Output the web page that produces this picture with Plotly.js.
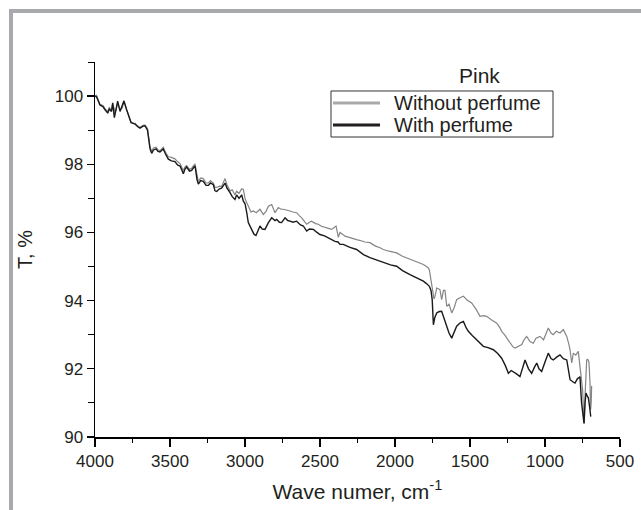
<!DOCTYPE html>
<html>
<head>
<meta charset="utf-8">
<script src="https://cdn.plot.ly/plotly-3.0.1.min.js"></script>
<style>
  html, body { margin:0; padding:0; background:#fff; }
  #wrap { position:relative; width:641px; height:510px; overflow:hidden; }
  #chart { position:absolute; left:0; top:0; width:641px; height:510px; }
  .frameTop { position:absolute; left:9px; top:9px; width:640px; height:4px; background:#a7a9ac; }
  .frameLeft { position:absolute; left:9px; top:9px; width:4px; height:510px; background:#a7a9ac; }
</style>
</head>
<body>
<div id="wrap">
  <div id="chart"></div>
  <div class="frameTop"></div>
  <div class="frameLeft"></div>
</div>
<script>
// Without perfume (grey)
const wnWithout = [4000,3990,3967,3945,3933,3915,3905,3890,3882,3865,3849,3833,3818,3807,3789,3775,3760,3745,3733,3715,3700,3680,3667,3650,3640,3633,3622,3610,3593,3580,3567,3555,3545,3530,3511,3490,3467,3450,3433,3420,3411,3400,3389,3370,3356,3340,3333,3320,3311,3295,3278,3260,3244,3230,3211,3200,3189,3170,3156,3133,3120,3100,3085,3067,3056,3040,3022,3011,3000,2989,2978,2960,2944,2925,2900,2878,2860,2844,2822,2800,2778,2760,2744,2720,2700,2680,2656,2640,2622,2600,2589,2570,2556,2530,2511,2490,2467,2444,2422,2405,2393,2378,2367,2350,2333,2300,2270,2256,2220,2200,2167,2130,2100,2078,2040,2010,1989,1950,1920,1900,1870,1840,1811,1790,1778,1771,1760,1750,1740,1733,1722,1710,1700,1689,1677,1667,1655,1640,1622,1605,1589,1570,1544,1520,1489,1460,1433,1410,1389,1360,1340,1322,1300,1289,1270,1255,1233,1215,1200,1180,1155,1140,1122,1100,1078,1060,1033,1010,990,978,960,945,925,900,878,865,855,840,833,822,811,795,778,767,755,749,742,738,733,727,722,715,707,700,696,692,689];
const tWithout = [100.0,100.02,99.76,99.72,99.62,99.55,99.66,99.58,99.78,99.52,99.8,99.6,99.65,99.84,99.6,99.45,99.25,99.2,99.2,99.12,99.08,99.14,99.15,99.05,98.7,98.5,98.38,98.48,98.5,98.42,98.4,98.45,98.5,98.35,98.22,98.2,98.16,98.08,98.02,97.9,97.82,97.92,97.96,97.85,97.88,97.98,98.0,97.7,97.5,97.6,97.58,97.45,97.45,97.52,97.45,97.33,97.32,97.36,97.35,97.58,97.4,97.22,97.25,97.1,97.21,97.15,97.28,97.26,97.0,96.88,96.77,96.6,96.63,96.58,96.68,96.53,96.62,96.77,96.82,96.58,96.73,96.68,96.68,96.66,96.63,96.6,96.58,96.5,96.43,96.3,96.24,96.3,96.33,96.26,96.24,96.18,96.14,96.12,96.09,96.15,96.19,95.86,96.0,95.95,95.89,95.85,95.8,95.79,95.75,95.72,95.7,95.6,95.55,95.5,95.45,95.42,95.4,95.3,95.25,95.2,95.15,95.1,95.06,95.0,94.96,94.9,94.6,94.3,94.05,94.13,94.37,94.35,94.32,94.03,94.3,94.3,93.83,93.9,93.64,93.8,94.03,94.08,94.13,94.02,93.93,93.75,93.54,93.56,93.54,93.45,93.4,93.34,93.2,93.1,93.0,92.9,92.75,92.65,92.61,92.65,92.71,92.85,92.95,92.8,92.75,92.9,92.95,92.85,93.05,93.2,93.05,93.0,93.1,93.05,93.15,93.05,92.95,92.7,92.56,92.17,92.46,92.4,92.51,92.07,91.6,91.38,90.6,90.4,91.2,91.8,92.26,92.28,92.2,91.6,90.8,91.0,91.5];

// With perfume (black)
const wnWith = [4000,3990,3967,3945,3933,3915,3905,3890,3882,3871,3860,3849,3833,3818,3807,3789,3775,3760,3745,3733,3715,3700,3680,3667,3650,3640,3633,3622,3610,3593,3580,3567,3555,3545,3530,3511,3490,3467,3450,3433,3420,3411,3400,3389,3370,3356,3340,3333,3320,3311,3295,3278,3260,3244,3230,3211,3200,3189,3170,3156,3133,3120,3100,3085,3067,3056,3040,3022,3011,3000,2989,2978,2956,2940,2927,2915,2900,2885,2867,2844,2822,2800,2789,2770,2756,2733,2715,2700,2680,2656,2630,2611,2589,2570,2544,2520,2500,2470,2444,2420,2400,2380,2367,2345,2300,2256,2210,2167,2120,2078,2030,1989,1950,1900,1860,1811,1790,1771,1760,1752,1744,1735,1722,1705,1689,1672,1655,1640,1622,1605,1589,1565,1544,1525,1511,1485,1455,1430,1411,1380,1344,1315,1289,1265,1244,1225,1211,1190,1167,1150,1133,1110,1089,1070,1055,1040,1022,1000,978,960,945,920,900,878,855,845,833,815,800,785,767,756,745,740,733,727,718,711,703,695];
const tWith = [100.0,99.98,99.74,99.68,99.6,99.5,99.62,99.55,99.8,99.37,99.6,99.85,99.55,99.7,99.86,99.6,99.4,99.22,99.2,99.18,99.1,99.06,99.12,99.13,99.0,98.6,98.45,98.32,98.42,98.45,98.38,98.36,98.4,98.45,98.3,98.15,98.1,98.08,97.98,97.95,97.82,97.72,97.86,97.92,97.8,97.82,97.92,97.95,97.55,97.42,97.52,97.5,97.38,97.38,97.45,97.4,97.22,97.2,97.28,97.3,97.45,97.3,97.17,97.05,96.97,97.1,97.0,97.1,96.92,96.85,96.6,96.29,96.09,95.95,95.91,96.05,96.19,96.1,96.09,96.29,96.43,96.35,96.38,96.3,96.29,96.43,96.35,96.33,96.3,96.33,96.22,96.19,96.04,96.1,96.09,96.0,95.94,95.9,95.84,95.78,95.74,95.72,95.65,95.65,95.56,95.5,95.35,95.26,95.18,95.11,95.05,95.01,94.88,94.76,94.68,94.57,94.5,94.42,94.3,94.03,93.29,93.5,93.64,93.68,93.69,93.45,93.25,93.05,92.9,93.1,93.25,93.35,93.39,93.2,93.1,92.98,92.85,92.75,92.66,92.62,92.56,92.45,92.31,92.1,91.87,91.95,91.92,91.85,91.77,92.0,92.26,92.0,91.87,92.05,92.17,92.0,91.92,92.2,92.46,92.3,92.26,92.35,92.41,92.3,92.26,92.0,91.68,91.62,91.58,91.7,91.77,90.99,90.5,90.4,91.0,91.29,91.2,91.15,90.9,90.6];

const seriesNames = ["Without perfume", "With perfume"];
const legendTitle = "Pink";
const xTickVals = [4000,3500,3000,2500,2000,1500,1000,500];
const yTickVals = [90,92,94,96,98,100];

const FONT = "Liberation Sans, Arial, sans-serif";
const TXT = "#231f20";
const GREY_LINE = "#858585";
const GREY_KEY = "#a9a9a9";
const BLACK_LINE = "#1a1a1a";

const traces = [
  {x: wnWithout, y: tWithout, type: "scatter", mode: "lines", name: seriesNames[0],
   showlegend: false, line: {color: GREY_LINE, width: 1.2}},
  {x: wnWith, y: tWith, type: "scatter", mode: "lines", name: seriesNames[1],
   showlegend: false, line: {color: BLACK_LINE, width: 1.4}}
];

// Legend drawn by hand (paper coordinates of the plot area)
const lgX0 = 0.4495, lgX1 = 0.8724, lgY0 = 0.8, lgY1 = 0.9227;
const keyX0 = 0.4533, keyX1 = 0.5429, txtX = 0.5657;
const rowY = [0.8907, 0.832];
const keyColors = [GREY_KEY, "#231f20"];

const shapes = [
  {type: "rect", xref: "paper", yref: "paper", x0: lgX0, x1: lgX1, y0: lgY0, y1: lgY1,
   line: {color: "#333", width: 1}, fillcolor: "#fff", layer: "above"}
];
const annotations = [{
  text: legendTitle, xref: "paper", yref: "paper", x: 0.733, y: 0.965,
  xanchor: "center", yanchor: "middle", showarrow: false,
  font: {size: 21, family: FONT, color: TXT}
}];
seriesNames.forEach((n, i) => {
  shapes.push({type: "line", xref: "paper", yref: "paper", x0: keyX0, x1: keyX1,
    y0: rowY[i], y1: rowY[i], line: {color: keyColors[i], width: 3}, layer: "above"});
  annotations.push({text: n, xref: "paper", yref: "paper", x: txtX, y: rowY[i],
    xanchor: "left", yanchor: "middle", showarrow: false,
    font: {size: 20, family: FONT, color: TXT}});
});

const layout = {
  width: 641, height: 510,
  margin: {l: 95, r: 21, t: 62, b: 73},
  paper_bgcolor: "rgba(0,0,0,0)",
  plot_bgcolor: "#fff",
  showlegend: false,
  font: {family: FONT, color: TXT, size: 17},
  xaxis: {
    range: [4000, 500], autorange: false,
    tickvals: xTickVals, ticktext: xTickVals.map(String),
    ticks: "outside", ticklen: 8, tickwidth: 1.3, tickcolor: "#000",
    showline: true, linecolor: "#000", linewidth: 1.5,
    showgrid: false, zeroline: false,
    minor: {dtick: 250, tick0: 500, ticks: "outside", ticklen: 4, tickwidth: 1, tickcolor: "#000", showgrid: false},
    tickfont: {size: 17, family: FONT, color: TXT},
    title: {text: "Wave numer, cm<sup>-1</sup>", font: {size: 21, family: FONT, color: TXT}, standoff: 14}
  },
  yaxis: {
    range: [90, 101], autorange: false,
    tickvals: yTickVals, ticktext: yTickVals.map(String),
    ticks: "outside", ticklen: 7, tickwidth: 1.3, tickcolor: "#000",
    showline: true, linecolor: "#000", linewidth: 1.5,
    showgrid: false, zeroline: false,
    minor: {dtick: 1, tick0: 90, ticks: "outside", ticklen: 6, tickwidth: 1, tickcolor: "#000", showgrid: false},
    tickfont: {size: 17, family: FONT, color: TXT},
    title: {text: "T, %", font: {size: 20, family: FONT, color: TXT}, standoff: 16}
  },
  shapes: shapes,
  annotations: annotations
};

Plotly.newPlot("chart", traces, layout, {displayModeBar: false, staticPlot: true});
</script>
</body>
</html>
